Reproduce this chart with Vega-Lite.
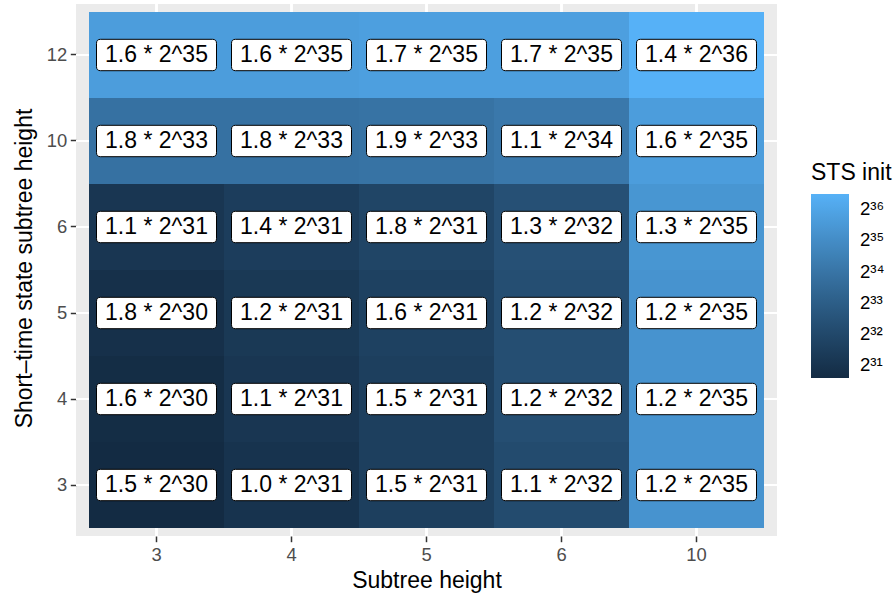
{
  "$schema": "https://vega.github.io/schema/vega-lite/v6.json",
  "width": 701,
  "height": 532,
  "autosize": {"type": "none"},
  "padding": {"left": 76, "top": 4, "right": 119, "bottom": 60},
  "background": "white",
  "config": {
    "font": "Liberation Sans",
    "view": {"fill": "#EBEBEB", "stroke": null},
    "scale": {"bandPaddingInner": 0, "bandPaddingOuter": 0.1, "rectBandPaddingInner": 0},
    "axis": {
      "bandPosition": 0.5,
      "labelFontSize": 18.4,
      "labelColor": "#4D4D4D",
      "labelPadding": 3.5,
      "tickColor": "#333333",
      "tickSize": 5.7,
      "tickWidth": 1.5,
      "domain": false,
      "grid": false,
      "titleFontSize": 23,
      "titleFontWeight": "normal",
      "titleColor": "black"
    },
    "axisX": {
      "labelAngle": 0,
      "titleBaseline": "alphabetic",
      "titleY": 51
    },
    "axisY": {
      "titleAngle": 270,
      "titleAlign": "center",
      "titleBaseline": "alphabetic",
      "titleX": -45,
      "titleY": 264
    }
  },
  "data": {
    "values": [
      {"x": "3", "y": "12", "v": 54975581389, "label": "1.6 * 2^35"},
      {"x": "4", "y": "12", "v": 54975581389, "label": "1.6 * 2^35"},
      {"x": "5", "y": "12", "v": 58411555226, "label": "1.7 * 2^35"},
      {"x": "6", "y": "12", "v": 58411555226, "label": "1.7 * 2^35"},
      {"x": "10", "y": "12", "v": 96207267430, "label": "1.4 * 2^36"},
      {"x": "3", "y": "10", "v": 15461882266, "label": "1.8 * 2^33"},
      {"x": "4", "y": "10", "v": 15461882266, "label": "1.8 * 2^33"},
      {"x": "5", "y": "10", "v": 16320875725, "label": "1.9 * 2^33"},
      {"x": "6", "y": "10", "v": 18897856102, "label": "1.1 * 2^34"},
      {"x": "10", "y": "10", "v": 54975581389, "label": "1.6 * 2^35"},
      {"x": "3", "y": "6", "v": 2362232013, "label": "1.1 * 2^31"},
      {"x": "4", "y": "6", "v": 3006477107, "label": "1.4 * 2^31"},
      {"x": "5", "y": "6", "v": 3865470566, "label": "1.8 * 2^31"},
      {"x": "6", "y": "6", "v": 5583457485, "label": "1.3 * 2^32"},
      {"x": "10", "y": "6", "v": 44667659878, "label": "1.3 * 2^35"},
      {"x": "3", "y": "5", "v": 1932735283, "label": "1.8 * 2^30"},
      {"x": "4", "y": "5", "v": 2576980378, "label": "1.2 * 2^31"},
      {"x": "5", "y": "5", "v": 3435973837, "label": "1.6 * 2^31"},
      {"x": "6", "y": "5", "v": 5153960755, "label": "1.2 * 2^32"},
      {"x": "10", "y": "5", "v": 41231686042, "label": "1.2 * 2^35"},
      {"x": "3", "y": "4", "v": 1717986918, "label": "1.6 * 2^30"},
      {"x": "4", "y": "4", "v": 2362232013, "label": "1.1 * 2^31"},
      {"x": "5", "y": "4", "v": 3221225472, "label": "1.5 * 2^31"},
      {"x": "6", "y": "4", "v": 5153960755, "label": "1.2 * 2^32"},
      {"x": "10", "y": "4", "v": 41231686042, "label": "1.2 * 2^35"},
      {"x": "3", "y": "3", "v": 1610612736, "label": "1.5 * 2^30"},
      {"x": "4", "y": "3", "v": 2147483648, "label": "1.0 * 2^31"},
      {"x": "5", "y": "3", "v": 3221225472, "label": "1.5 * 2^31"},
      {"x": "6", "y": "3", "v": 4724464026, "label": "1.1 * 2^32"},
      {"x": "10", "y": "3", "v": 41231686042, "label": "1.2 * 2^35"}
    ]
  },
  "layer": [
    {
      "mark": {"type": "rule", "color": "white", "strokeWidth": 1.8},
      "encoding": {
        "x": {"field": "x", "type": "ordinal", "sort": ["3", "4", "5", "6", "10"], "title": "Subtree height"}
      }
    },
    {
      "mark": {"type": "rule", "color": "white", "strokeWidth": 1.8},
      "encoding": {
        "y": {"field": "y", "type": "ordinal", "sort": ["12", "10", "6", "5", "4", "3"], "title": "Short–time state subtree height"}
      }
    },
    {
      "mark": {"type": "rect"},
      "encoding": {
        "x": {"field": "x", "type": "ordinal", "sort": ["3", "4", "5", "6", "10"], "title": "Subtree height", "scale": {"paddingInner": 0, "paddingOuter": 0.0962962963}},
        "y": {"field": "y", "type": "ordinal", "sort": ["12", "10", "6", "5", "4", "3"], "title": "Short–time state subtree height", "scale": {"paddingInner": 0, "paddingOuter": 0.0930232558}},
        "color": {
          "field": "v",
          "type": "quantitative",
          "scale": {
            "type": "log",
            "base": 2,
            "domain": [1610612736, 96207267430],
            "nice": false,
            "range": ["#132B43", "#56B1F7"],
            "interpolate": "lab"
          },
          "legend": {
            "type": "gradient",
            "title": "STS init",
            "orient": "none",
            "legendX": 735,
            "legendY": 158,
            "direction": "vertical",
            "values": [2147483648, 4294967296, 8589934592, 17179869184, 34359738368, 68719476736],
            "labelExpr": "'2' + ['⁰','¹','²','³','⁴','⁵','⁶','⁷','⁸','⁹'][floor(round(log(datum.value)/LN2)/10)] + ['⁰','¹','²','³','⁴','⁵','⁶','⁷','⁸','⁹'][round(log(datum.value)/LN2) % 10]",
            "gradientLength": 184,
            "gradientThickness": 38,
            "gradientStrokeWidth": 0,
            "titleFontSize": 23,
            "titleFontWeight": "normal",
            "titleColor": "black",
            "titlePadding": 9,
            "labelFontSize": 18.6,
            "labelColor": "black",
            "labelOffset": 11,
            "labelBaseline": "line-top",
            "labelLineHeight": 12.8
          }
        }
      }
    },
    {
      "mark": {
        "type": "point",
        "shape": "M -0.9333 -0.2617 L 0.9333 -0.2617 Q 1 -0.2617 1 -0.195 L 1 0.195 Q 1 0.2617 0.9333 0.2617 L -0.9333 0.2617 Q -1 0.2617 -1 0.195 L -1 -0.195 Q -1 -0.2617 -0.9333 -0.2617 Z",
        "size": 14400,
        "filled": true,
        "fill": "white",
        "stroke": "black",
        "strokeWidth": 1,
        "opacity": 1,
        "fillOpacity": 1
      },
      "encoding": {
        "x": {"field": "x", "type": "ordinal", "sort": ["3", "4", "5", "6", "10"], "title": "Subtree height"},
        "y": {"field": "y", "type": "ordinal", "sort": ["12", "10", "6", "5", "4", "3"], "title": "Short–time state subtree height"}
      }
    },
    {
      "mark": {
        "type": "text",
        "fontSize": 23,
        "color": "black",
        "align": "center",
        "baseline": "middle"
      },
      "encoding": {
        "x": {"field": "x", "type": "ordinal", "sort": ["3", "4", "5", "6", "10"], "title": "Subtree height"},
        "y": {"field": "y", "type": "ordinal", "sort": ["12", "10", "6", "5", "4", "3"], "title": "Short–time state subtree height"},
        "text": {"field": "label", "type": "nominal"}
      }
    }
  ]
}
